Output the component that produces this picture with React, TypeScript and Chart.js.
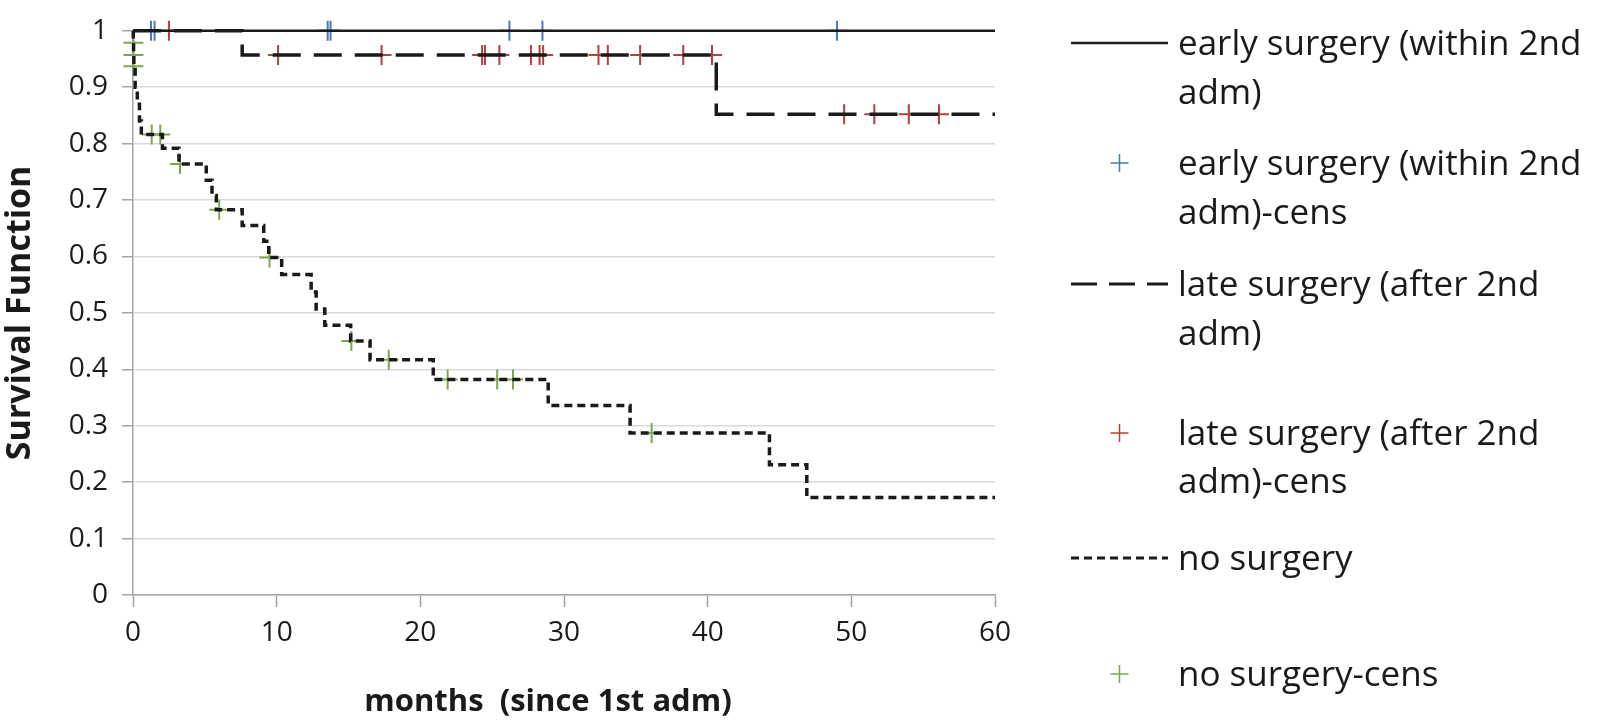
import React, { useEffect, useRef } from 'react';
import { Chart, registerables } from 'chart.js';

Chart.register(...registerables);

// ---------- data ----------
const xTickValues = [0, 10, 20, 30, 40, 50, 60];
const yTickLabels = ['0', '0.1', '0.2', '0.3', '0.4', '0.5', '0.6', '0.7', '0.8', '0.9', '1'];
const xAxisTitle = 'months  (since 1st adm)';
const yAxisTitle = 'Survival Function';

const earlyTimes = [0, 60];
const earlySurv = [1, 1];
const earlyCensTimes = [1.25, 1.5, 13.55, 13.75, 26.2, 28.5, 49.0];
const earlyCensSurv = [1, 1, 1, 1, 1, 1, 1];

const lateTimes = [0, 7.6, 40.6, 60];
const lateSurv = [1, 0.957, 0.852, 0.852];
const lateCensTimes = [2.5, 10.1, 17.3, 24.3, 24.5, 25.5, 27.7, 28.3, 28.55, 32.4, 33.05, 35.3, 38.3, 40.3, 49.5, 51.6, 54.0, 56.1];
const lateCensSurv = [1, 0.957, 0.957, 0.957, 0.957, 0.957, 0.957, 0.957, 0.957, 0.957, 0.957, 0.957, 0.957, 0.957, 0.852, 0.852, 0.852, 0.852];

const noTimes = [0, 0.02, 0.04, 0.06, 0.15, 0.3, 0.45, 0.58, 2.05, 3.2, 5.1, 5.5, 5.8, 7.6, 9.1, 9.45, 10.35, 12.4, 12.75, 13.35, 15.15, 16.5, 20.9, 28.9, 34.6, 44.3, 46.9, 60];
const noSurv = [1, 0.979, 0.957, 0.937, 0.9, 0.87, 0.84, 0.816, 0.792, 0.764, 0.735, 0.708, 0.683, 0.655, 0.627, 0.598, 0.568, 0.537, 0.507, 0.478, 0.45, 0.417, 0.382, 0.336, 0.287, 0.231, 0.173, 0.173];
const noCensTimes = [0.03, 0.03, 0.03, 1.3, 1.9, 3.27, 6.0, 9.5, 15.2, 17.8, 21.9, 25.35, 26.45, 36.1];
const noCensSurv = [0.979, 0.957, 0.937, 0.816, 0.816, 0.764, 0.683, 0.598, 0.45, 0.417, 0.382, 0.382, 0.382, 0.287];

const legendTexts = [
  ['early surgery (within 2nd', 'adm)'],
  ['early surgery (within 2nd', 'adm)-cens'],
  ['late surgery (after 2nd', 'adm)'],
  ['late surgery (after 2nd', 'adm)-cens'],
  ['no surgery'],
  ['no surgery-cens'],
];

// ---------- styles ----------
const LINE_COLOR = '#1a1a1a';
const BLUE = '#4a78b0';
const RED = '#b0413e';
const GREEN = '#7ea64f';
const FONT = '"Open Sans", "DejaVu Sans", sans-serif';

const toPts = (xs: number[], ys: number[]) => xs.map((x, i) => ({ x, y: ys[i] }));

const legendPlugin = {
  id: 'kmLegend',
  afterDraw(chart: any) {
    const ctx: CanvasRenderingContext2D = chart.ctx;
    ctx.save();
    // x-axis title (slightly left of plot centre, as in the source)
    ctx.font = `bold 31px ${FONT}`;
    ctx.fillStyle = '#1a1a1a';
    ctx.textAlign = 'center';
    ctx.textBaseline = 'middle';
    ctx.fillText(xAxisTitle, 548, 702);

    const lineX0 = 1071;
    const lineX1 = 1168;
    const textX = 1178;
    const rows = [
      [43, 92],
      [163, 212],
      [284, 333],
      [433, 481],
      [558],
      [674],
    ];
    const symbols: any[] = [
      { kind: 'line', dash: [] as number[], width: 2.5 },
      { kind: 'cross', color: BLUE },
      { kind: 'line', dash: [26, 12], width: 3 },
      { kind: 'cross', color: RED },
      { kind: 'line', dash: [8, 5], width: 3 },
      { kind: 'cross', color: GREEN },
    ];
    ctx.font = `35px ${FONT}`;
    ctx.textBaseline = 'middle';
    ctx.textAlign = 'left';
    legendTexts.forEach((lines, i) => {
      const ys = rows[i];
      const s = symbols[i];
      const y0 = ys[0];
      if (s.kind === 'line') {
        ctx.strokeStyle = LINE_COLOR;
        ctx.lineWidth = s.width;
        ctx.setLineDash(s.dash);
        ctx.beginPath();
        ctx.moveTo(lineX0, y0);
        ctx.lineTo(lineX1, y0);
        ctx.stroke();
        ctx.setLineDash([]);
      } else {
        const cx = (lineX0 + lineX1) / 2;
        ctx.strokeStyle = s.color;
        ctx.lineWidth = 1.5;
        ctx.beginPath();
        ctx.moveTo(cx - 9, y0);
        ctx.lineTo(cx + 9, y0);
        ctx.moveTo(cx, y0 - 9);
        ctx.lineTo(cx, y0 + 9);
        ctx.stroke();
      }
      ctx.fillStyle = '#1a1a1a';
      lines.forEach((t, j) => ctx.fillText(t, textX, ys[j] + 2));
    });
    ctx.restore();
  },
};

export default function App() {
  const ref = useRef<HTMLCanvasElement>(null);
  useEffect(() => {
    document.body.style.margin = '0';
    const crossDs = (label: string, xs: number[], ys: number[], color: string) => ({
      type: 'scatter' as const,
      label,
      data: toPts(xs, ys),
      showLine: false,
      pointStyle: 'cross',
      pointRadius: 10,
      pointHoverRadius: 10,
      pointBorderWidth: 2,
      borderColor: color,
      backgroundColor: color,
      clip: false as any,
    });
    const lineDs = (label: string, xs: number[], ys: number[], dash: number[], width: number) => ({
      type: 'line' as const,
      label,
      data: toPts(xs, ys),
      stepped: 'before' as const,
      borderColor: LINE_COLOR,
      borderWidth: width,
      borderDash: dash,
      borderCapStyle: 'butt' as const,
      pointRadius: 0,
      fill: false,
      clip: false as any,
    });
    const chart = new Chart(ref.current!, {
      type: 'line',
      data: {
        datasets: [
          lineDs('early surgery (within 2nd adm)', earlyTimes, earlySurv, [], 2.6),
          lineDs('late surgery (after 2nd adm)', lateTimes, lateSurv, [28, 13], 3.5),
          lineDs('no surgery', noTimes, noSurv, [8, 5], 3.5),
          crossDs('early surgery (within 2nd adm)-cens', earlyCensTimes, earlyCensSurv, BLUE),
          crossDs('late surgery (after 2nd adm)-cens', lateCensTimes, lateCensSurv, RED),
          crossDs('no surgery-cens', noCensTimes, noCensSurv, GREEN),
        ] as any,
      },
      options: {
        animation: false,
        responsive: false,
        layout: { padding: { top: 17, right: 605, left: 0, bottom: 0 } },
        plugins: {
          legend: { display: false },
          tooltip: { enabled: false },
        },
        scales: {
          x: {
            type: 'linear',
            min: 0,
            max: 60,
            afterFit: (s: any) => { s.height = 125; },
            afterBuildTicks: (s: any) => { s.ticks = xTickValues.map((v) => ({ value: v })); },
            ticks: {
              font: { family: FONT, size: 28 },
              color: '#1a1a1a',
              padding: 9,
              maxRotation: 0,
            },
            grid: {
              drawOnChartArea: false,
              drawTicks: true,
              tickLength: 12,
              tickColor: '#a6a6a6',
              tickWidth: 1.5,
            },
            border: { color: '#a6a6a6', width: 1.5 },
            title: { display: false },
          },
          y: {
            type: 'linear',
            min: 0,
            max: 1,
            afterFit: (s: any) => { s.width = 133; },
            ticks: {
              stepSize: 0.1,
              font: { family: FONT, size: 28 },
              color: '#1a1a1a',
              padding: 14,
              callback: (_v: any, i: number) => yTickLabels[i],
            },
            grid: {
              color: '#d9d9d9',
              lineWidth: 1.5,
              drawTicks: true,
              tickLength: 11,
              tickColor: '#a6a6a6',
              tickWidth: 1.5,
            },
            border: { color: '#a6a6a6', width: 1.5 },
            title: {
              display: true,
              text: yAxisTitle,
              font: { family: FONT, size: 34, weight: 'bold' },
              color: '#1a1a1a',
              padding: { top: 0, bottom: 0 },
            },
          },
        },
      },
      plugins: [legendPlugin],
    } as any);
    return () => chart.destroy();
  }, []);
  return (
    <div style={{ width: 1600, height: 720, background: '#fff' }}>
      <canvas ref={ref} width={1600} height={720} style={{ display: 'block' }} />
    </div>
  );
}
